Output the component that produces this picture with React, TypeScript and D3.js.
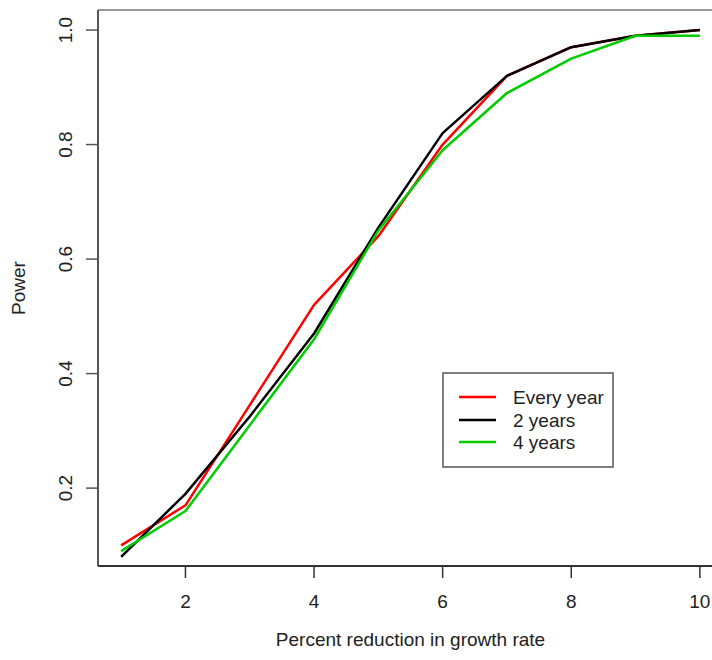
import React from "react";
import * as d3 from "d3";

const xValues = [1, 2, 3, 4, 5, 6, 7, 8, 9, 10];
const everyYear = [0.10, 0.17, 0.345, 0.52, 0.64, 0.80, 0.92, 0.97, 0.99, 1.0];
const twoYears = [0.08, 0.19, 0.325, 0.47, 0.655, 0.82, 0.92, 0.97, 0.99, 1.0];
const fourYears = [0.09, 0.16, 0.31, 0.46, 0.65, 0.79, 0.89, 0.95, 0.99, 0.99];
const seriesNames = ["Every year", "2 years", "4 years"];
const seriesColors = ["#ff0000", "#000000", "#00cd00"];
const xTicks = [2, 4, 6, 8, 10];
const yTicks = [0.2, 0.4, 0.6, 0.8, 1.0];

const W = 712;
const H = 660;
const left = 98;
const right = 723;
const top = 10;
const bottom = 566;

export default function App() {
  const x = d3.scaleLinear().domain([0.64, 10.36]).range([left, right]);
  const y = d3.scaleLinear().domain([0.064, 1.035]).range([bottom, top]);
  const line = d3
    .line<[number, number]>()
    .x((d) => x(d[0]))
    .y((d) => y(d[1]));
  const allSeries = [everyYear, twoYears, fourYears];
  const font = "Liberation Sans, Arial, sans-serif";
  const fmt = d3.format(".1f");
  const legend = { x0: 443, y0: 373, x1: 613, y1: 467 };
  const legendRows = [397, 420, 442];

  return (
    <svg
      width={W}
      height={H}
      style={{ position: "absolute", left: 0, top: 0, background: "#fff" }}
      fontFamily={font}
    >
      <rect x={0} y={0} width={W} height={H} fill="#fff" />
      {/* frame */}
      <line x1={left} x2={W} y1={top} y2={top} stroke="#999" strokeWidth={2} />
      <line x1={left} x2={left} y1={top} y2={bottom} stroke="#555" strokeWidth={2} />
      <line x1={left} x2={W} y1={bottom} y2={bottom} stroke="#333" strokeWidth={2} />
      {/* x ticks */}
      {xTicks.map((t) => (
        <g key={"x" + t}>
          <line x1={x(t)} x2={x(t)} y1={bottom} y2={bottom + 12} stroke="#333" strokeWidth={1.5} />
          <text x={x(t)} y={608} textAnchor="middle" fontSize={19} fill="#222">
            {t}
          </text>
        </g>
      ))}
      {/* y ticks */}
      {yTicks.map((t) => (
        <g key={"y" + t}>
          <line x1={left - 12} x2={left} y1={y(t)} y2={y(t)} stroke="#555" strokeWidth={1.5} />
          <text
            transform={`translate(72,${y(t)}) rotate(-90)`}
            textAnchor="middle"
            fontSize={19}
            fill="#222"
          >
            {fmt(t)}
          </text>
        </g>
      ))}
      {/* axis titles */}
      <text x={(left + right) / 2} y={646} textAnchor="middle" fontSize={19} fill="#222">
        Percent reduction in growth rate
      </text>
      <text
        transform={`translate(25,${(top + bottom) / 2}) rotate(-90)`}
        textAnchor="middle"
        fontSize={19}
        fill="#222"
      >
        Power
      </text>
      {/* lines */}
      {allSeries.map((s, i) => (
        <path
          key={"s" + i}
          d={line(xValues.map((xv, j) => [xv, s[j]] as [number, number])) || ""}
          fill="none"
          stroke={seriesColors[i]}
          strokeWidth={2.5}
          strokeLinejoin="round"
        />
      ))}
      {/* legend */}
      <rect
        x={legend.x0}
        y={legend.y0}
        width={legend.x1 - legend.x0}
        height={legend.y1 - legend.y0}
        fill="#fff"
        stroke="#555"
        strokeWidth={1.5}
      />
      {seriesNames.map((n, i) => (
        <g key={"l" + i}>
          <line x1={459} x2={496} y1={legendRows[i]} y2={legendRows[i]} stroke={seriesColors[i]} strokeWidth={2.5} />
          <text x={513} y={legendRows[i] + 7} fontSize={19} fill="#222">
            {n}
          </text>
        </g>
      ))}
    </svg>
  );
}
